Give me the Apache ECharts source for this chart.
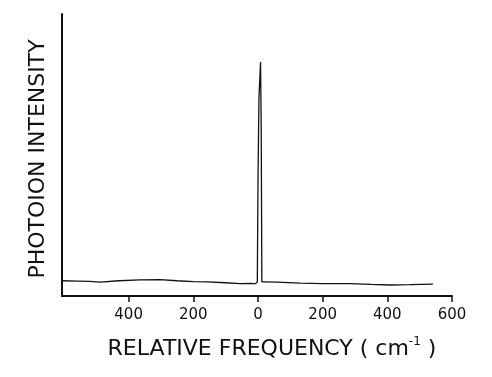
<!DOCTYPE html>
<html>
<head>
    <meta charset="utf-8">
    <title>Photoion spectrum</title>
    <style>
        html, body { margin: 0; height: 100%; background: #fff; }
        #chart { width: 492px; height: 377px; }
    </style>
</head>
<body>
    <div id="chart"></div>
    <script src="https://cdn.jsdelivr.net/npm/echarts@6/dist/echarts.min.js"></script>
    <script>
// spectrum: relative frequency (cm-1) and intensity (0-100 of the axis height)
const freq = [-606, -560, -520, -488, -430, -365, -303, -250, -200, -158, -100, -56, -20, -9,
              -2, 0, 3, 8, 10, 12,
              20, 60, 130, 200, 284, 350, 408, 470, 541];
const intensity = [5.4, 5.3, 5.2, 4.9, 5.4, 5.7, 5.8, 5.4, 5.1, 5.0, 4.7, 4.4, 4.5, 4.3,
                   5.0, 40, 70, 83, 60, 5.0,
                   5.0, 4.9, 4.6, 4.4, 4.4, 4.1, 3.9, 4.0, 4.2];
const tickValues = [-400, -200, 0, 200, 400, 600];

const chart = echarts.init(document.getElementById('chart'));

chart.setOption({
    animation: false,
    backgroundColor: '#fff',
    grid: { left: 62, right: 40, top: 14, bottom: 81 },
    xAxis: {
        type: 'value',
        min: -606,
        max: 600,
        name: 'RELATIVE FREQUENCY ( cm{sup|-1} )',
        nameLocation: 'middle',
        nameGap: 40,
        nameTextStyle: {
            fontFamily: 'DejaVu Sans',
            fontSize: 22,
            color: '#111',
            padding: [0, 0, 0, 30],
            rich: {
                sup: { fontFamily: 'DejaVu Sans', fontSize: 12, color: '#111', padding: [0, 0, 14, 0] }
            }
        },
        splitLine: { show: false },
        axisLine: { lineStyle: { color: '#111', width: 2 } },
        axisTick: { customValues: tickValues, length: 6, lineStyle: { color: '#111', width: 1.5 } },
        axisLabel: {
            customValues: tickValues,
            formatter: v => String(Math.abs(v)),
            fontFamily: 'DejaVu Sans',
            fontSize: 15,
            color: '#111',
            margin: 12
        }
    },
    yAxis: {
        type: 'value',
        min: 0,
        max: 100,
        name: 'PHOTOION INTENSITY',
        nameLocation: 'middle',
        nameGap: 13,
        nameTextStyle: { fontFamily: 'DejaVu Sans', fontSize: 22, color: '#111', padding: [0, 8, 0, 0] },
        splitLine: { show: false },
        axisLine: { show: true, onZero: false, lineStyle: { color: '#111', width: 2 } },
        axisTick: { show: false },
        axisLabel: { show: false }
    },
    series: [{
        type: 'line',
        data: freq.map((f, i) => [f, intensity[i]]),
        showSymbol: false,
        lineStyle: { color: '#111', width: 1.3 }
    }]
});
    </script>
</body>
</html>
